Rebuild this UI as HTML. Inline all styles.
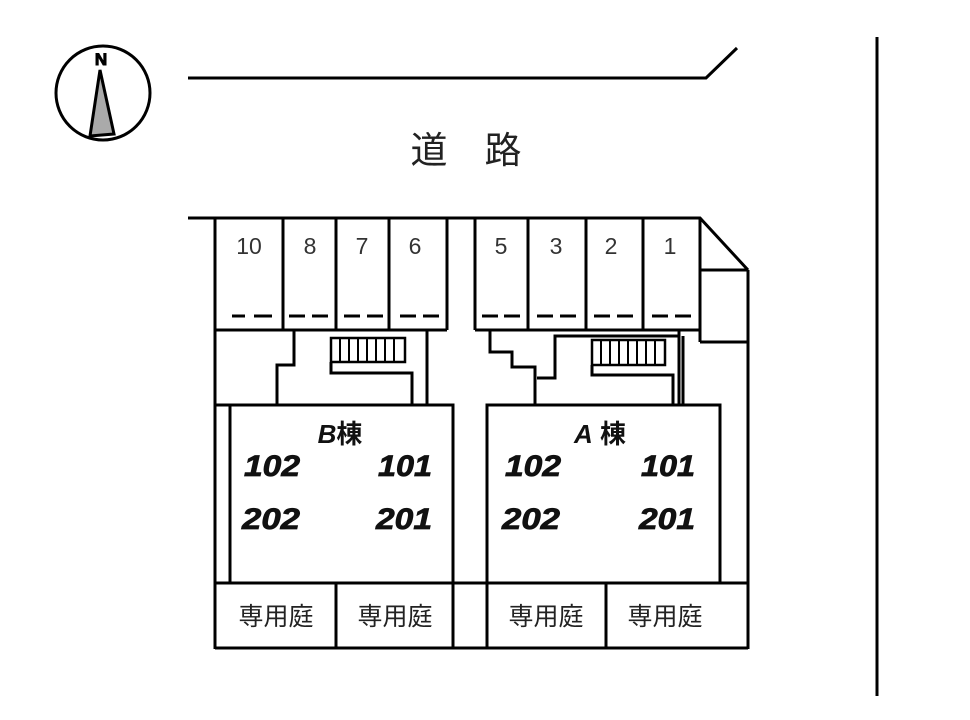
<!DOCTYPE html>
<html><head><meta charset="utf-8"><style>
html,body{margin:0;padding:0;background:#fff;}
svg{display:block;}
.n{font-family:"Liberation Sans",sans-serif;font-size:23px;fill:#333;}
.u{font-family:"Liberation Sans",sans-serif;font-size:30px;font-weight:bold;font-style:italic;fill:#111;stroke:#111;stroke-width:0.8;}
.j{font-family:"Liberation Sans","Noto Sans CJK JP",sans-serif;font-size:25px;fill:#222;}
</style></head><body>
<svg width="970" height="720" viewBox="0 0 970 720" xmlns="http://www.w3.org/2000/svg">
<g fill="none" stroke="#000" stroke-width="3">
<circle cx="103" cy="93" r="47" stroke-width="3"/>
<polyline points="188,78 706,78 737,48"/>
<line x1="877" y1="37" x2="877" y2="696"/>
<polyline points="188,218 700,218 748,270"/>
<line x1="215" y1="218" x2="215" y2="649"/>
<line x1="283" y1="218" x2="283" y2="330"/>
<line x1="336" y1="218" x2="336" y2="330"/>
<line x1="389" y1="218" x2="389" y2="330"/>
<line x1="447" y1="218" x2="447" y2="330"/>
<line x1="215" y1="330" x2="447" y2="330"/>
<polyline points="294,330 294,365 277,365 277,405"/>
<rect x="331" y="338" width="74" height="24" stroke-width="2.5"/>
<polyline points="331,362 331,373 412,373 412,405"/>
<line x1="427" y1="330" x2="427" y2="405"/>
<line x1="475" y1="218" x2="475" y2="330"/>
<line x1="528" y1="218" x2="528" y2="330"/>
<line x1="586" y1="218" x2="586" y2="330"/>
<line x1="643" y1="218" x2="643" y2="330"/>
<line x1="700" y1="218" x2="700" y2="342"/>
<line x1="475" y1="330" x2="700" y2="330"/>
<line x1="700" y1="270" x2="748" y2="270"/>
<line x1="700" y1="342" x2="748" y2="342"/>
<line x1="748" y1="270" x2="748" y2="649"/>
<polyline points="490,330 490,352 512,352 512,367 535,367 535,405"/>
<polyline points="537,378 555,378 555,336 680,336"/>
<line x1="679" y1="330" x2="679" y2="405"/>
<line x1="683" y1="336" x2="683" y2="405"/>
<rect x="592" y="340" width="73" height="25" stroke-width="2.5"/>
<polyline points="592,365 592,375 673,375 673,405"/>
<rect x="215" y="405" width="238" height="178"/>
<line x1="230" y1="405" x2="230" y2="583"/>
<line x1="215" y1="648" x2="748" y2="648"/>
<line x1="336" y1="583" x2="336" y2="648"/>
<line x1="453" y1="583" x2="453" y2="648"/>
<line x1="453" y1="583" x2="487" y2="583"/>
<rect x="487" y="405" width="233" height="178"/>
<line x1="487" y1="583" x2="487" y2="648"/>
<line x1="720" y1="583" x2="748" y2="583"/>
<line x1="606" y1="583" x2="606" y2="648"/>
</g>
<g stroke="#000" stroke-width="2">
<line x1="340" y1="338" x2="340" y2="362"/><line x1="349" y1="338" x2="349" y2="362"/><line x1="358" y1="338" x2="358" y2="362"/><line x1="367" y1="338" x2="367" y2="362"/><line x1="376" y1="338" x2="376" y2="362"/><line x1="385" y1="338" x2="385" y2="362"/><line x1="394" y1="338" x2="394" y2="362"/>
<line x1="601" y1="340" x2="601" y2="365"/><line x1="610" y1="340" x2="610" y2="365"/><line x1="619" y1="340" x2="619" y2="365"/><line x1="628" y1="340" x2="628" y2="365"/><line x1="637" y1="340" x2="637" y2="365"/><line x1="646" y1="340" x2="646" y2="365"/><line x1="655" y1="340" x2="655" y2="365"/>
</g>
<polygon points="100,70 90,136 114,134" fill="#aaa" stroke="#000" stroke-width="3"/>
<text x="101" y="65" text-anchor="middle" font-family="Liberation Sans,sans-serif" font-size="17" font-weight="bold" fill="#000" stroke="#000" stroke-width="1">N</text>
<g stroke="#000" stroke-width="3">
<line x1="232" y1="316" x2="245" y2="316"/><line x1="254" y1="316" x2="272" y2="316"/>
<line x1="289" y1="316" x2="305" y2="316"/><line x1="312" y1="316" x2="328" y2="316"/>
<line x1="344" y1="316" x2="360" y2="316"/><line x1="367" y1="316" x2="383" y2="316"/>
<line x1="400" y1="316" x2="416" y2="316"/><line x1="423" y1="316" x2="439" y2="316"/>
<line x1="482" y1="316" x2="498" y2="316"/><line x1="504" y1="316" x2="520" y2="316"/>
<line x1="537" y1="316" x2="553" y2="316"/><line x1="560" y1="316" x2="576" y2="316"/>
<line x1="594" y1="316" x2="610" y2="316"/><line x1="617" y1="316" x2="633" y2="316"/>
<line x1="652" y1="316" x2="668" y2="316"/><line x1="675" y1="316" x2="691" y2="316"/>
</g>
<g class="n" text-anchor="middle">
<text x="249" y="254">10</text><text x="310" y="254">8</text><text x="362" y="254">7</text><text x="415" y="254">6</text>
<text x="501" y="254">5</text><text x="556" y="254">3</text><text x="611" y="254">2</text><text x="670" y="254">1</text>
</g>
<text x="466" y="163" text-anchor="middle" font-family="Liberation Sans,'Noto Sans CJK JP',sans-serif" font-size="37" fill="#222">道　路</text>
<text x="340" y="443" text-anchor="middle" font-family="Liberation Sans,'Noto Sans CJK JP',sans-serif" font-size="26" font-weight="bold" fill="#111"><tspan font-style="italic">B</tspan>棟</text>
<text x="600" y="443" text-anchor="middle" font-family="Liberation Sans,'Noto Sans CJK JP',sans-serif" font-size="26" font-weight="bold" fill="#111"><tspan font-style="italic">A</tspan> 棟</text>
<g class="u">
<text x="244" y="476" textLength="56" lengthAdjust="spacingAndGlyphs">102</text><text x="378" y="476" textLength="54" lengthAdjust="spacingAndGlyphs">101</text>
<text x="242" y="529" textLength="58" lengthAdjust="spacingAndGlyphs">202</text><text x="376" y="529" textLength="56" lengthAdjust="spacingAndGlyphs">201</text>
<text x="505" y="476" textLength="56" lengthAdjust="spacingAndGlyphs">102</text><text x="641" y="476" textLength="54" lengthAdjust="spacingAndGlyphs">101</text>
<text x="502" y="529" textLength="58" lengthAdjust="spacingAndGlyphs">202</text><text x="639" y="529" textLength="56" lengthAdjust="spacingAndGlyphs">201</text>
</g>
<g class="j" text-anchor="middle">
<text x="276" y="625">専用庭</text><text x="395" y="625">専用庭</text>
<text x="546" y="625">専用庭</text><text x="665" y="625">専用庭</text>
</g>
</svg>
</body></html>
